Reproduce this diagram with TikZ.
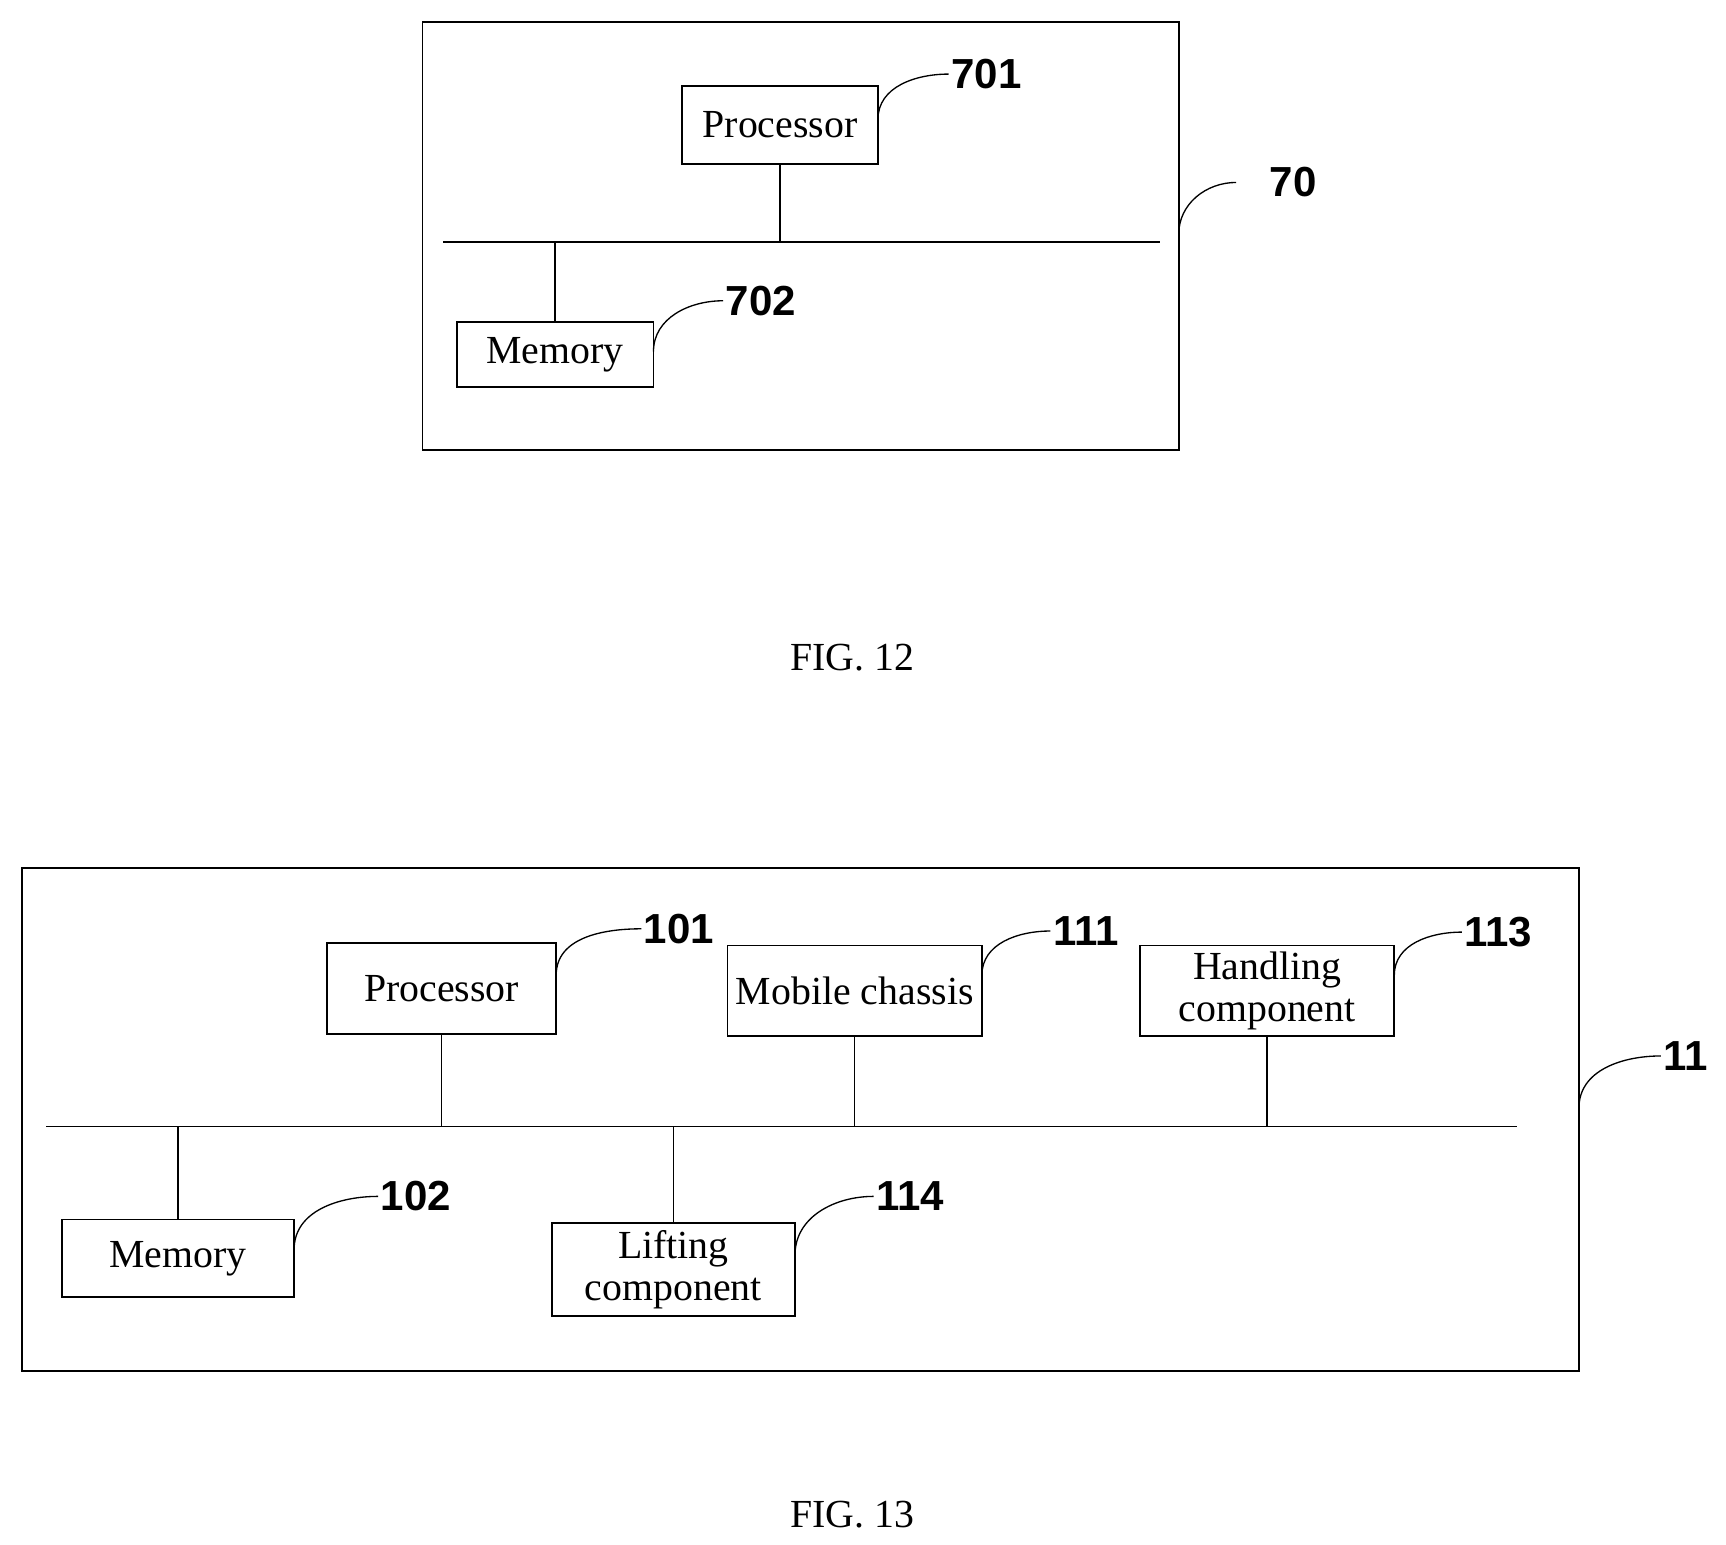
\documentclass[tikz,border=0pt]{standalone}
\usepackage{fontspec}
\setmainfont{Liberation Serif}
\newfontfamily\lblfont{Liberation Sans}
\usetikzlibrary{fit}
\begin{document}
\begin{tikzpicture}[x=0.5pt,y=-0.5pt,
  box/.style={draw,line width=0.8pt,inner sep=0pt},
  txt/.style={align=center,inner sep=0pt,font=\fontsize{18}{19}\selectfont},
  frame/.style={draw,line width=0.8pt,inner sep=0pt},
  lbl/.style={font=\lblfont\bfseries\fontsize{19}{19}\selectfont,inner sep=1pt},
  lead/.style={line width=0.6pt},
  ln/.style={line width=0.6pt},
  figcap/.style={font=\fontsize{18}{18}\selectfont}]
\useasboundingbox (0,0) rectangle (1561,1397);
% FIG 12
\node[frame,fit={(382,20)(1066,407)}] (f12) {};
\node[box,fit={(617,78)(794,148)}] (p7) {};
\node[txt] (tp7) at (p7.center) {Processor};
\node[box,fit={(413,291)(591,350)}] (m7) {};
\node[txt] (tm7) at (m7.center) {Memory};
\coordinate (b7l) at (401,219); \coordinate (b7r) at (1049,219);
\draw[ln] (b7l) -- (b7r);
\draw[ln] (p7.south) -- (p7.south |- b7l);
\draw[ln] (m7.north) -- (m7.north |- b7l);
\node[lbl,anchor=west] (l701) at (858,67) {701};
\node[lbl,anchor=west] (l702) at (654,272) {702};
\node[lbl,anchor=west] (l70) at (1146,165) {70};
\coordinate (s701) at (794,108); \coordinate (s702) at (591,318); \coordinate (s70) at (1066,212);
\draw[lead] (s701) to[out=90,in=180] (l701.west);
\draw[lead] (s702) to[out=90,in=180] (l702.west);
\draw[lead] (s70) to[out=90,in=180] ([xshift=-14pt]l70.west);
\node[figcap] (c12) at (771,595) {FIG. 12};
% FIG 13
\node[frame,fit={(20,785)(1428,1240)}] (f13) {};
\node[box,fit={(296,853)(503,935)}] (p1) {};
\node[txt] (tp1) at (p1.center) {Processor};
\node[box,fit={(658,855)(888,937)}] (mc) {};
\node[txt] (tmc) at (mc.center) {Mobile chassis};
\node[box,fit={(1031,855)(1261,937)}] (hc) {};
\node[txt] (thc) at (hc.center) {Handling\\component};
\node[box,fit={(56,1103)(266,1173)}] (m1) {};
\node[txt] (tm1) at (m1.center) {Memory};
\node[box,fit={(499,1106)(719,1190)}] (lc) {};
\node[txt] (tlc) at (lc.center) {Lifting\\component};
\coordinate (b1l) at (42,1019); \coordinate (b1r) at (1372,1019);
\draw[ln] (b1l) -- (b1r);
\foreach \n in {p1,mc,hc} \draw[ln] (\n.south) -- (\n.south |- b1l);
\foreach \n in {m1,lc} \draw[ln] (\n.north) -- (\n.north |- b1l);
\node[lbl,anchor=west] (l101) at (580,840) {101};
\node[lbl,anchor=west] (l111) at (950,842) {111};
\node[lbl,anchor=west] (l113) at (1322,843) {113};
\node[lbl,anchor=west] (l11) at (1502,955) {11};
\node[lbl,anchor=west] (l102) at (342,1082) {102};
\node[lbl,anchor=west] (l114) at (790,1082) {114};
\coordinate (s101) at (503,882); \coordinate (s111) at (888,882);
\coordinate (s113) at (1261,882); \coordinate (s11) at (1428,1002);
\coordinate (s102) at (266,1130); \coordinate (s114) at (719,1135);
\foreach \s/\l in {s101/l101,s111/l111,s113/l113,s11/l11,s102/l102,s114/l114}
  \draw[lead] (\s) to[out=90,in=180] (\l.west);
\node[figcap] (c13) at (771,1370) {FIG. 13};
\end{tikzpicture}
\end{document}
